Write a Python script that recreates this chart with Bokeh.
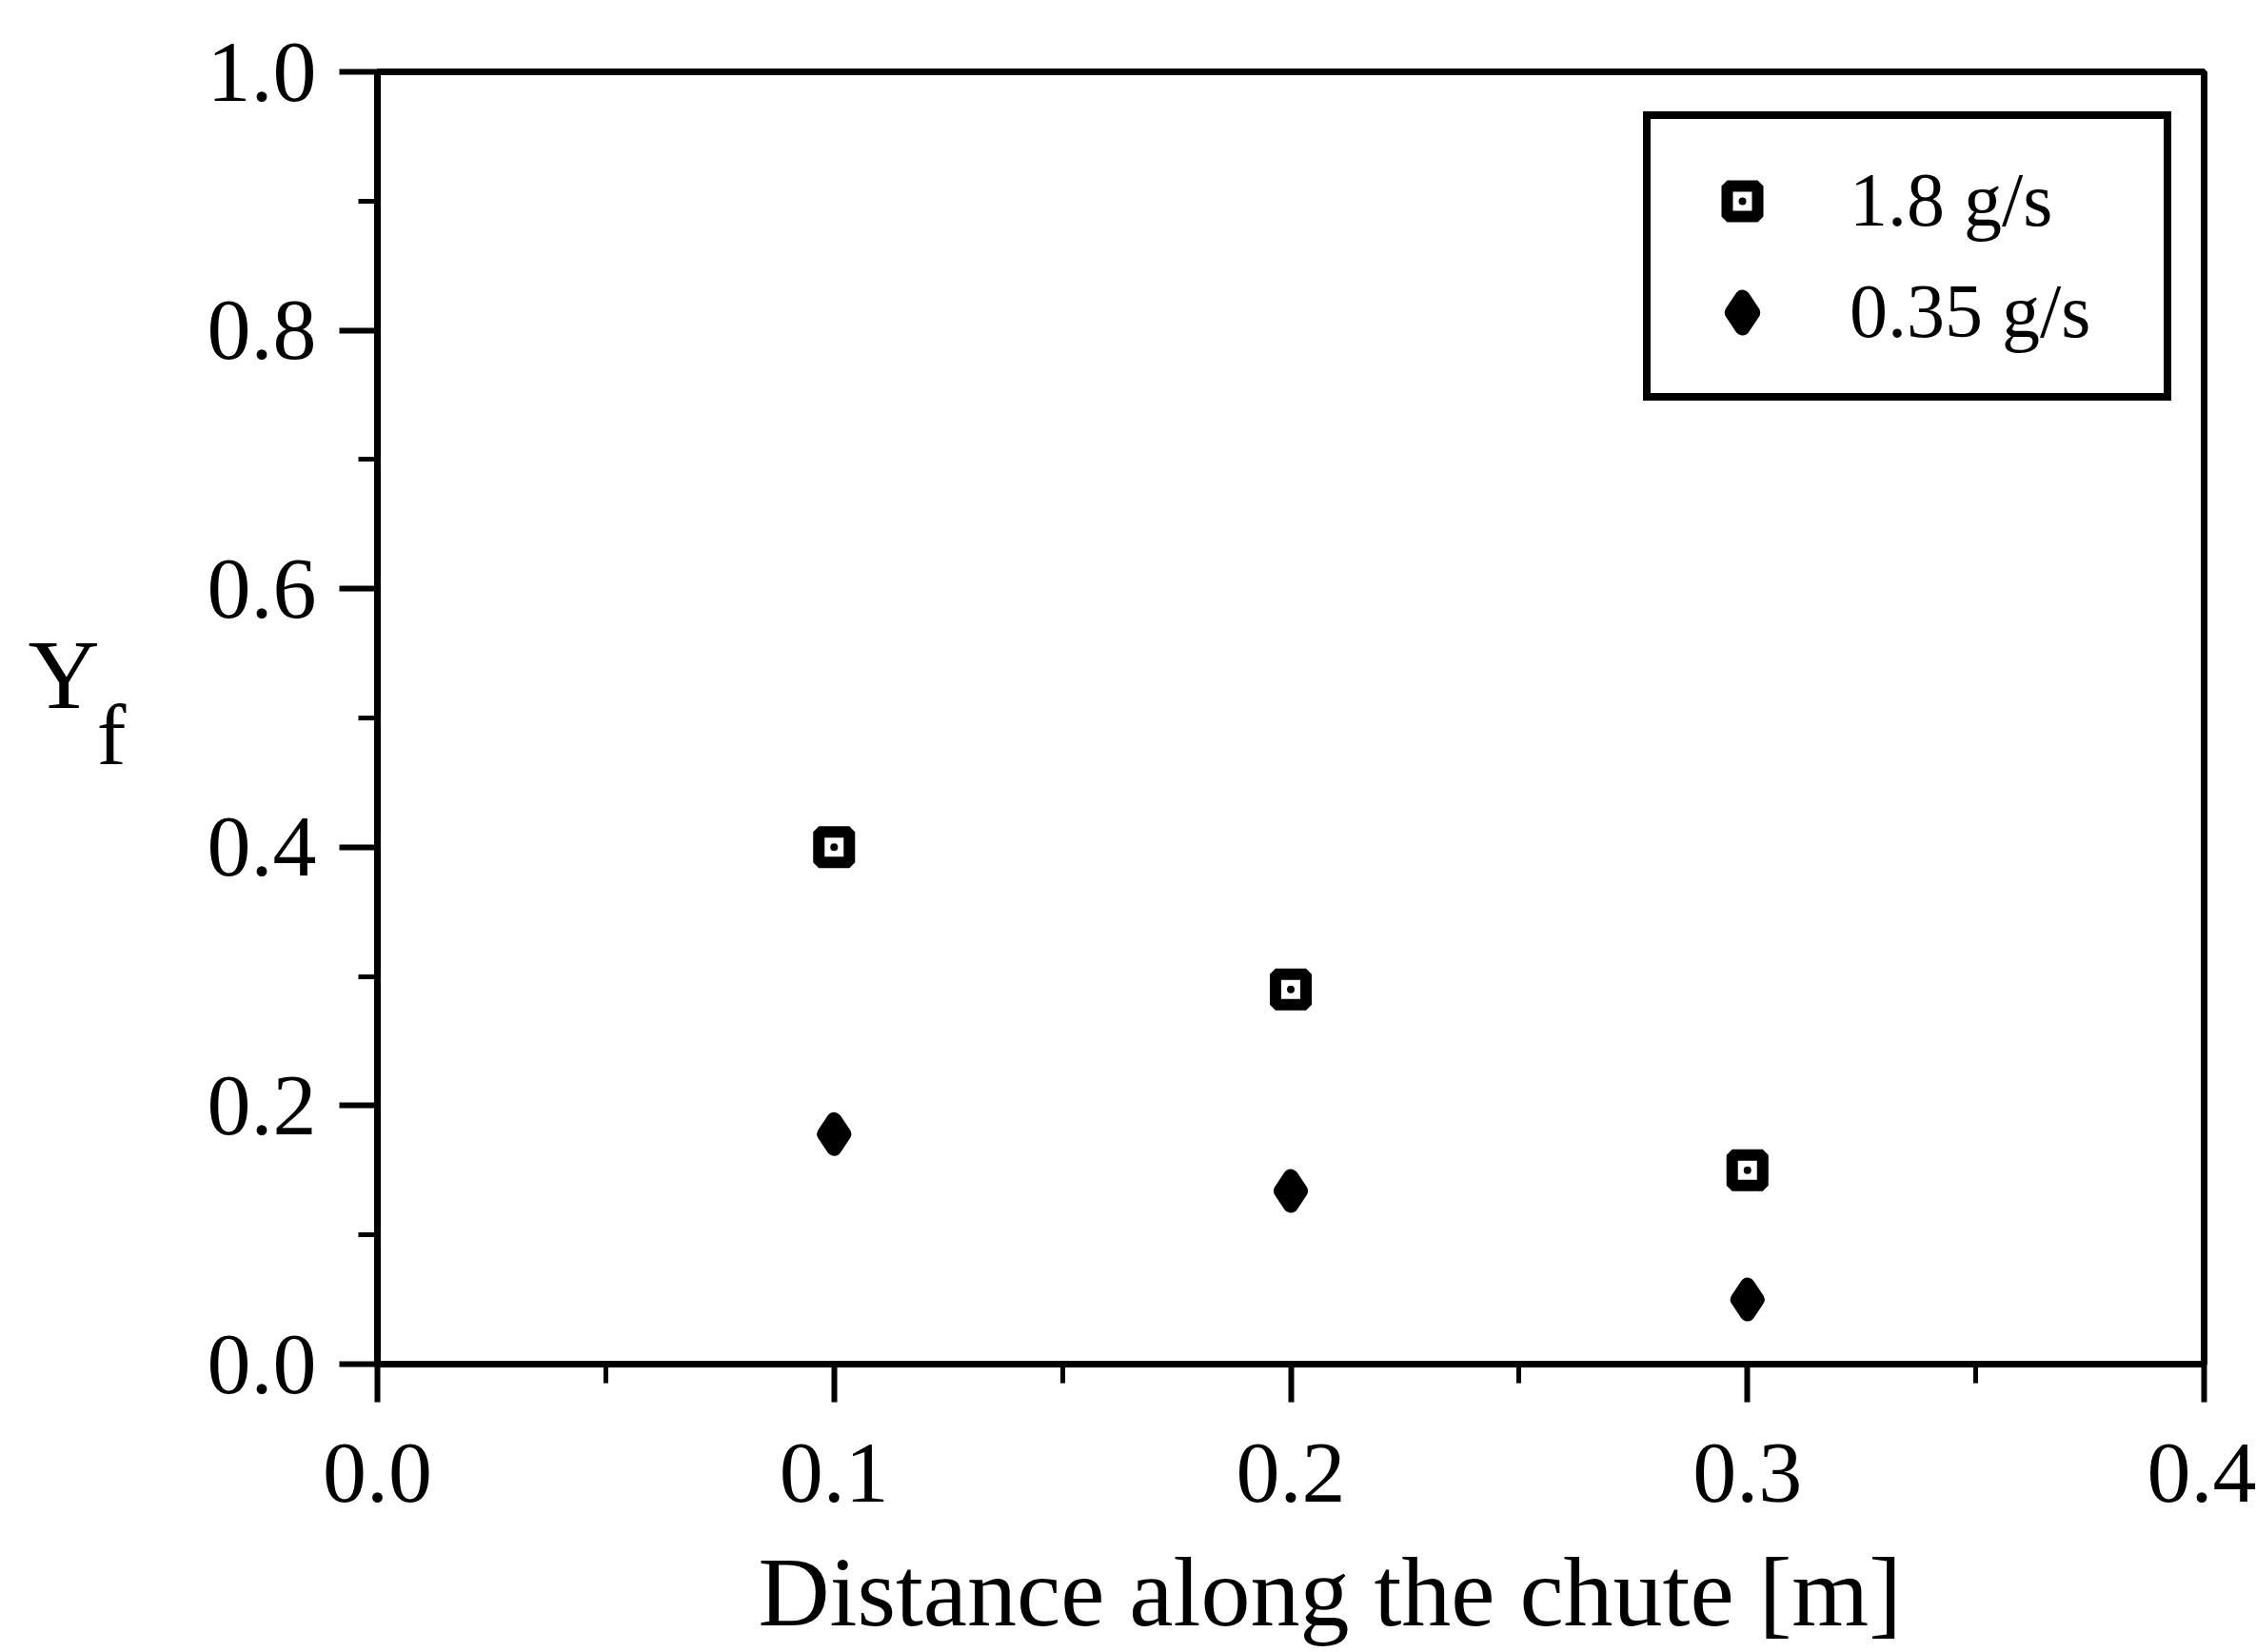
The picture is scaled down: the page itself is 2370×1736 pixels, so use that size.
import numpy as np
from bokeh.plotting import figure
from bokeh.models import (Range1d, Legend, LegendItem, Title, LinearAxis,
                          SingleIntervalTicker, FixedTicker, PrintfTickFormatter)
from bokeh.embed import file_html
from bokeh.resources import INLINE

# ---- data ----
distance = [0.1, 0.2, 0.3]
yf_1p8 = [0.40, 0.29, 0.15]
yf_0p35 = [0.178, 0.134, 0.05]
series_labels = ["1.8 g/s", "0.35 g/s"]
x_label = "Distance along the chute [m]"
y_label_main = "Y"
y_label_sub = "f"

FONT = "Liberation Serif"
NBSP = "\u00a0"

p = figure(frame_width=1919, frame_height=1358,
           min_border_left=396, min_border_right=55,
           min_border_top=75, min_border_bottom=303,
           x_range=Range1d(0, 0.4), y_range=Range1d(0, 1.0),
           output_backend="svg", toolbar_location=None)
p.grid.visible = False
p.background_fill_color = "white"
p.border_fill_color = "white"
p.outline_line_color = "black"
p.outline_line_width = 7
p.outline_line_alpha = 1.0

p.xaxis.ticker = SingleIntervalTicker(interval=0.1, num_minor_ticks=2)
p.yaxis.ticker = SingleIntervalTicker(interval=0.2, num_minor_ticks=2)
for ax in (p.xaxis[0], p.yaxis[0]):
    ax.formatter = PrintfTickFormatter(format="%.1f")
    ax.axis_line_width = 7
    ax.axis_line_color = "black"
    ax.major_tick_line_width = 6
    ax.minor_tick_line_width = 5
    ax.major_tick_line_color = "black"
    ax.minor_tick_line_color = "black"
    ax.major_tick_in = 0
    ax.minor_tick_in = 0
    ax.major_tick_out = 40
    ax.minor_tick_out = 20
    ax.major_label_text_font = FONT
    ax.major_label_text_font_size = "92px"
    ax.major_label_text_color = "black"
p.yaxis.major_label_standoff = 24
p.xaxis.major_label_standoff = 44

# subscript part of the y label sits next to the tick labels (shifted down)
yax = p.yaxis[0]
yax.axis_label = NBSP + "\n" + y_label_sub
yax.axis_label_orientation = "horizontal"
yax.axis_label_text_font = FONT
yax.axis_label_text_font_style = "normal"
yax.axis_label_text_font_size = "92px"
yax.axis_label_text_color = "black"
yax.axis_label_text_line_height = 0.34
yax.axis_label_standoff = 82

# main letter of the y label on an outer, tick-less axis (shifted up)
yax2 = LinearAxis(ticker=FixedTicker(ticks=[]), axis_line_alpha=0,
                  major_tick_out=0, minor_tick_out=0, major_tick_in=0,
                  minor_tick_in=0, major_label_text_alpha=0,
                  axis_label=y_label_main + "\n" + NBSP,
                  axis_label_orientation="horizontal",
                  axis_label_text_font=FONT, axis_label_text_font_style="normal",
                  axis_label_text_font_size="104px", axis_label_text_color="black",
                  axis_label_text_line_height=0.8, axis_label_standoff=-6)
p.add_layout(yax2, "left")

p.add_layout(Title(text=x_label, align="left", offset=400, standoff=65,
                   text_font=FONT, text_font_style="normal",
                   text_font_size="104px", text_color="black"), "below")

r1 = p.scatter(distance, yf_1p8, marker="square_dot", size=32,
               fill_color="white", line_color="black", line_width=12)
r2 = p.scatter(distance, yf_0p35, marker="diamond", size=30,
               fill_color="black", line_color="black", line_width=16,
               line_join="round")

legend = Legend(items=[LegendItem(label=series_labels[0], renderers=[r1]),
                       LegendItem(label=series_labels[1], renderers=[r2])],
                location=(1330, 1012), orientation="vertical",
                glyph_width=112, glyph_height=80, label_standoff=57,
                label_width=290, label_height=80, padding=40, spacing=26,
                margin=0, border_line_color="black", border_line_width=8,
                border_line_alpha=1.0, background_fill_color="white",
                background_fill_alpha=1.0, label_text_font=FONT,
                label_text_font_size="80px", label_text_color="black")
p.add_layout(legend)

open("out.html", "w").write(file_html(p, INLINE))
